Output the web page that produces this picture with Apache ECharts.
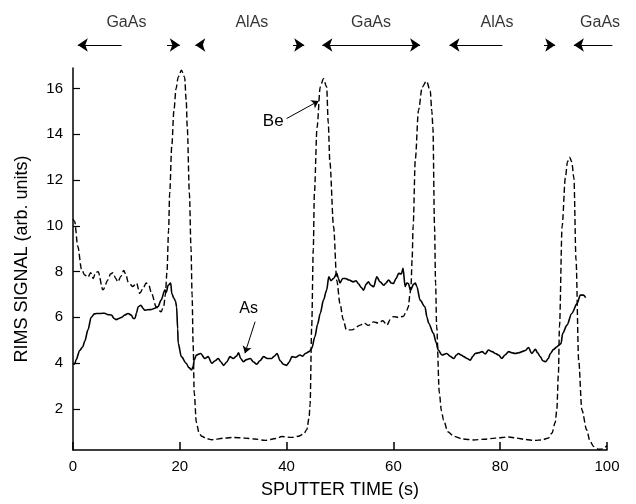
<!DOCTYPE html>
<html>
<head>
<meta charset="utf-8">
<script src="https://cdn.jsdelivr.net/npm/echarts@6/dist/echarts.min.js"></script>
<style>
  html, body { margin: 0; padding: 0; background: #fff; }
  #chart { width: 636px; height: 504px; }
</style>
</head>
<body>
<div id="chart"></div>
<script>
// Be profile (dashed)
var beTime = [0.0, 0.3, 0.9, 1.6, 2.2, 2.8, 3.3, 3.8, 4.2, 4.7, 5.6, 6.6, 7.0, 7.5, 8.0, 8.4, 9.0, 9.5, 10.0, 10.3,
  11.2, 11.9, 12.5, 13.2, 13.7, 14.2, 14.7, 15.6, 16.5, 17.0, 17.3, 17.6, 17.9, 18.1, 18.5, 18.9, 19.3, 19.7, 20.3, 20.9,
  21.2, 21.4, 21.8, 22.1, 22.3, 22.5, 22.7, 23.1, 23.6, 24.1, 25.0, 26.0, 28.5, 30.0, 32.2, 34.0, 36.0, 38.0, 39.1, 41.0,
  42.2, 43.2, 43.8, 44.2, 44.4, 44.7, 45.0, 45.2, 45.7, 46.3, 46.9, 47.5, 47.8, 48.1, 48.8, 49.4, 50.0, 50.6, 51.2, 52.2,
  53.8, 54.5, 55.3, 56.3, 57.2, 58.0, 58.8, 59.4, 60.0, 61.0, 61.9, 62.5, 62.8, 63.1, 63.3, 63.5, 63.7, 64.1, 64.7, 65.4,
  66.2, 66.9, 67.2, 67.4, 67.7, 67.9, 68.1, 68.6, 69.0, 69.4, 70.2, 71.3, 73.0, 75.0, 77.0, 79.1, 81.6, 83.0, 84.7, 86.5,
  87.8, 89.0, 89.7, 90.3, 90.6, 90.9, 91.1, 91.6, 92.2, 92.6, 93.0, 93.4, 93.8, 94.2, 94.7, 95.3, 96.2, 96.8, 97.5, 98.4,
  99.2, 100.0];
var beSignal = [10.3, 10.2, 9.1, 8.1, 7.85, 7.75, 7.95, 7.7, 7.95, 8.0, 7.2, 7.65, 7.9, 7.95, 7.7, 7.55, 7.8, 8.05, 7.8, 7.55,
  7.35, 7.5, 7.05, 7.3, 7.5, 7.4, 7.05, 6.45, 6.24, 6.5, 7.0, 8.0, 9.8, 11.4, 13.5, 15.05, 16.0, 16.5, 16.8, 16.5,
  15.5, 14.3, 11.4, 9.0, 7.0, 4.8, 2.7, 1.4, 0.95, 0.8, 0.7, 0.65, 0.72, 0.75, 0.72, 0.68, 0.62, 0.7, 0.79, 0.75,
  0.8, 0.9, 1.1, 1.6, 2.2, 5.6, 9.0, 11.4, 14.3, 16.07, 16.43, 16.07, 14.5, 12.8, 9.96, 7.6, 6.6, 5.9, 5.45, 5.45,
  5.66, 5.75, 5.65, 5.8, 5.75, 5.85, 5.66, 5.9, 6.03, 6.0, 6.05, 6.3, 6.46, 7.0, 7.4, 8.5, 10.0, 12.9, 15.05, 16.07,
  16.33, 15.9, 15.0, 14.3, 10.0, 7.5, 5.6, 2.7, 1.9, 1.5, 1.0, 0.8, 0.68, 0.64, 0.67, 0.72, 0.77, 0.72, 0.66, 0.62,
  0.64, 0.72, 0.94, 1.4, 1.95, 3.5, 5.6, 10.0, 12.1, 12.8, 13.0, 12.8, 12.1, 8.5, 4.1, 1.95, 1.08, 0.6, 0.35, 0.23,
  0.25, 0.4];

// As profile (solid)
var asTime = [0.0, 0.3, 0.6, 1.25, 1.8, 2.2, 2.8, 3.4, 4.0, 4.4, 5.2, 5.9, 6.5, 7.2, 7.7, 8.1, 8.6, 9.1, 9.7, 10.3,
  10.9, 11.3, 11.6, 11.9, 12.2, 12.7, 13.1, 13.4, 14.0, 14.7, 15.3, 15.9, 16.5, 17.2, 17.5, 17.8, 18.3, 18.5, 18.9, 19.2,
  19.4, 19.6, 19.7, 20.3, 21.2, 21.7, 22.2, 22.5, 22.7, 23.1, 23.9, 24.7, 25.3, 26.0, 26.6, 27.2, 27.7, 28.2, 28.8, 29.4,
  30.0, 30.6, 31.0, 31.4, 31.9, 32.5, 33.2, 33.8, 34.4, 35.0, 35.7, 36.4, 37.2, 37.7, 38.2, 38.8, 39.4, 40.0, 40.5, 41.0,
  41.7, 42.5, 43.0, 43.5, 44.2, 44.7, 45.3, 45.8, 46.3, 46.9, 47.5, 47.9, 48.3, 48.8, 49.4, 49.7, 50.0, 50.5, 51.0, 51.7,
  52.5, 53.0, 53.5, 54.0, 54.4, 54.9, 55.3, 55.8, 56.3, 56.9, 57.5, 58.2, 58.6, 59.1, 59.6, 60.0, 60.5, 61.0, 61.5, 61.8,
  62.2, 62.5, 62.8, 63.2, 63.8, 64.1, 64.4, 65.0, 65.9, 66.3, 66.6, 67.5, 68.0, 68.4, 69.1, 70.0, 70.6, 71.3, 71.8, 72.2,
  72.7, 73.2, 73.8, 74.4, 74.9, 75.3, 76.0, 76.6, 77.2, 77.8, 78.5, 79.1, 79.7, 80.3, 80.9, 81.6, 82.2, 82.8, 83.5, 84.1,
  84.7, 85.3, 85.9, 86.6, 87.0, 87.5, 88.0, 88.5, 89.0, 89.4, 90.0, 90.6, 91.1, 91.4, 91.7, 92.5, 93.4, 94.4, 95.0, 95.6,
  96.0];
var asSignal = [4.0, 3.95, 4.15, 4.55, 4.7, 4.95, 5.45, 6.0, 6.15, 6.17, 6.17, 6.18, 6.12, 6.1, 5.95, 5.9, 5.95, 6.0, 6.1, 6.17,
  6.1, 5.95, 5.95, 6.2, 6.46, 6.53, 6.4, 6.31, 6.33, 6.34, 6.4, 6.46, 6.75, 7.19, 7.1, 7.4, 7.5, 7.04, 6.83, 6.7,
  6.46, 5.5, 4.86, 4.28, 3.99, 3.8, 3.7, 3.85, 4.13, 4.35, 4.42, 4.2, 4.28, 3.99, 4.1, 4.2, 4.05, 3.9, 4.05, 4.28,
  4.2, 4.3, 4.45, 4.2, 4.06, 4.15, 4.2, 4.05, 3.95, 4.1, 4.28, 4.2, 4.2, 4.3, 4.42, 4.1, 3.95, 3.9, 4.05, 4.28,
  4.25, 4.35, 4.3, 4.42, 4.5, 4.64, 5.15, 5.7, 6.17, 6.75, 7.19, 7.77, 7.6, 7.7, 7.92, 7.7, 7.5, 7.7, 7.7, 7.63,
  7.55, 7.6, 7.45, 7.3, 7.19, 7.45, 7.55, 7.4, 7.34, 7.77, 7.55, 7.4, 7.5, 7.63, 7.5, 7.48, 7.7, 7.92, 7.9, 8.14,
  7.34, 7.5, 7.48, 7.19, 7.45, 7.5, 7.34, 6.75, 6.46, 6.0, 5.74, 5.3, 4.9, 4.57, 4.35, 4.42, 4.3, 4.2, 4.35, 4.42,
  4.35, 4.28, 4.2, 4.13, 4.3, 4.42, 4.45, 4.5, 4.4, 4.57, 4.5, 4.42, 4.35, 4.2, 4.35, 4.5, 4.45, 4.42, 4.45, 4.5,
  4.55, 4.68, 4.42, 4.6, 4.45, 4.28, 4.1, 4.06, 4.2, 4.42, 4.6, 4.71, 4.8, 4.86, 5.3, 5.66, 6.17, 6.6, 6.97, 6.97,
  6.86];

var xTicks = [0, 20, 40, 60, 80, 100];
var yTicks = [2, 4, 6, 8, 10, 12, 14, 16];

// layer labels over the plot
var layerNames = ["GaAs", "AlAs", "GaAs", "AlAs", "GaAs"];
var layerLabelX = [10.0, 33.5, 55.8, 79.4, 98.7];
// arrow pieces: [from, to, head side]
var arrowPieces = [[0.9, 9.1, "L"], [17.6, 20.0, "R"], [22.9, 24.4, "L"], [41.2, 43.3, "R"],
  [46.7, 65.0, "B"], [70.5, 80.4, "L"], [88.2, 90.3, "R"], [93.8, 101.0, "L"]];

// curve labels and pointers
var beLabel = [37.5, 14.57], beArrow = [[40.0, 14.69], [46.0, 15.46]];
var asLabel = [32.9, 6.39], asArrow = [[34.1, 5.81], [32.2, 4.43]];

function zip(a, b) {
  return a.map(function (v, i) { return [v, b[i]]; });
}

var font = "Liberation Sans, Arial, Helvetica, sans-serif";

var arrowData = arrowPieces.map(function (p) {
  var sym = p[2] === "L" ? ["arrow", "none"] : p[2] === "R" ? ["none", "arrow"] : ["arrow", "arrow"];
  return { coords: [[p[0], 0], [p[1], 0]], symbol: sym };
});
var layerData = layerNames.map(function (n, i) {
  return { name: n, value: [layerLabelX[i], 0.75] };
});

var myChart = echarts.init(document.getElementById("chart"));

var option = {
  animation: false,
  backgroundColor: "#fff",
  grid: [
    { left: 73, right: 29, top: 68, bottom: 54 },
    { left: 73, right: 29, top: 15, height: 30 }
  ],
  xAxis: [
    {
      type: "value",
      gridIndex: 0,
      min: 0,
      max: 100,
      interval: 20,
      name: "SPUTTER TIME (s)",
      nameLocation: "middle",
      nameGap: 31,
      nameTextStyle: { color: "#000", fontSize: 18, fontFamily: font },
      axisLine: { lineStyle: { color: "#000", width: 1.5 } },
      axisTick: { inside: true, length: 8, lineStyle: { color: "#000", width: 1.5 } },
      axisLabel: { color: "#000", fontSize: 15, fontFamily: font, margin: 9 },
      splitLine: { show: false }
    },
    { type: "value", gridIndex: 1, min: 0, max: 100, show: false }
  ],
  yAxis: [
    {
      type: "value",
      gridIndex: 0,
      min: 0.2,
      max: 16.9,
      name: "RIMS SIGNAL (arb. units)",
      nameLocation: "middle",
      nameGap: 42,
      nameTextStyle: { color: "#000", fontSize: 18, fontFamily: font },
      axisLine: { lineStyle: { color: "#000", width: 1.5 } },
      axisTick: { inside: true, length: 7, customValues: yTicks, lineStyle: { color: "#000", width: 1.2 } },
      axisLabel: { color: "#000", fontSize: 15, fontFamily: font, margin: 10, customValues: yTicks },
      splitLine: { show: false }
    },
    { type: "value", gridIndex: 1, min: 0, max: 1, show: false }
  ],
  series: [
    {
      name: "As",
      type: "line",
      xAxisIndex: 0,
      yAxisIndex: 0,
      data: zip(asTime, asSignal),
      showSymbol: false,
      smooth: 0.3,
      smoothMonotone: "x",
      lineStyle: { color: "#000", width: 1.6 },
      markLine: {
        silent: true,
        symbol: ["none", "arrow"],
        symbolSize: 7,
        label: { show: false },
        lineStyle: { color: "#000", width: 1, type: "solid" },
        data: [[{ coord: asArrow[0] }, { coord: asArrow[1] }]]
      },
      markPoint: {
        silent: true,
        symbolSize: 0,
        label: { show: true, position: "inside", color: "#000", fontSize: 16, fontFamily: font, formatter: "As" },
        data: [{ coord: asLabel }]
      }
    },
    {
      name: "Be",
      type: "line",
      xAxisIndex: 0,
      yAxisIndex: 0,
      data: zip(beTime, beSignal),
      showSymbol: false,
      smooth: 0.3,
      smoothMonotone: "x",
      lineStyle: { color: "#000", width: 1.4, type: [6, 3] },
      markLine: {
        silent: true,
        symbol: ["none", "arrow"],
        symbolSize: 7,
        label: { show: false },
        lineStyle: { color: "#000", width: 1, type: "solid" },
        data: [[{ coord: beArrow[0] }, { coord: beArrow[1] }]]
      },
      markPoint: {
        silent: true,
        symbolSize: 0,
        label: { show: true, position: "inside", color: "#000", fontSize: 17, fontFamily: font, formatter: "Be" },
        data: [{ coord: beLabel }]
      }
    },
    {
      type: "lines",
      coordinateSystem: "cartesian2d",
      xAxisIndex: 1,
      yAxisIndex: 1,
      clip: false,
      silent: true,
      symbolSize: 10,
      lineStyle: { color: "#000", width: 1, opacity: 1 },
      data: arrowData
    },
    {
      type: "scatter",
      xAxisIndex: 1,
      yAxisIndex: 1,
      silent: true,
      symbolSize: 0,
      label: {
        show: true,
        position: "inside",
        color: "#000",
        fontSize: 16,
        fontFamily: font,
        formatter: function (p) { return p.name; }
      },
      data: layerData
    }
  ]
};

myChart.setOption(option);
</script>
</body>
</html>
